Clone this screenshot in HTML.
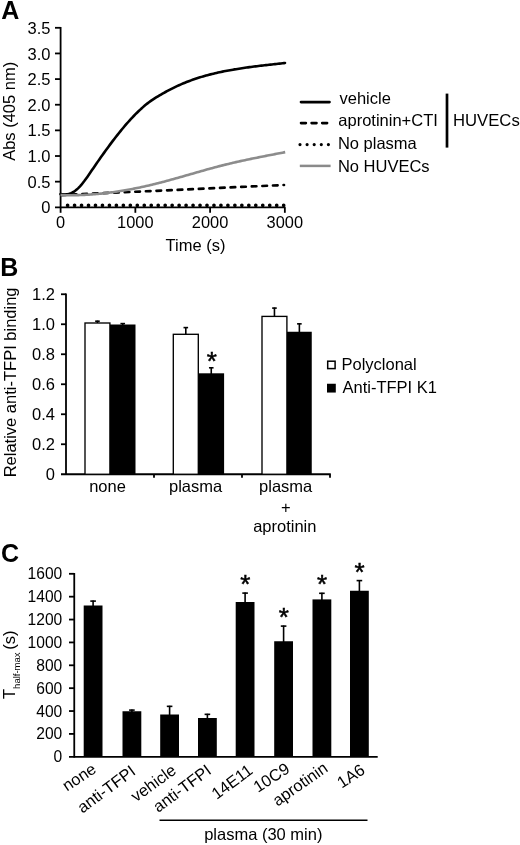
<!DOCTYPE html>
<html lang="en"><head><meta charset="utf-8"><title>Figure</title>
<style>
html,body{margin:0;padding:0;background:#fff;}
svg{display:block;}
svg text{font-family:"Liberation Sans",Arial,sans-serif;fill:#000;}
</style></head><body>
<svg width="520" height="845" viewBox="0 0 520 845">
<rect width="520" height="845" fill="#fff"/>
<text x="1.2" y="19.2" font-size="25" text-anchor="start" font-weight="bold" >A</text>
<line x1="60.6" y1="27.0" x2="60.6" y2="208.10000000000002" stroke="#000" stroke-width="1.8" />
<line x1="55" y1="207.3" x2="285.40000000000003" y2="207.3" stroke="#000" stroke-width="1.8" />
<text x="50.4" y="213.4" font-size="16.5" text-anchor="end" >0</text>
<line x1="55" y1="181.65714285714287" x2="60.6" y2="181.65714285714287" stroke="#000" stroke-width="1.8" />
<text x="50.4" y="187.75714285714287" font-size="16.5" text-anchor="end" >0.5</text>
<line x1="55" y1="156.01428571428573" x2="60.6" y2="156.01428571428573" stroke="#000" stroke-width="1.8" />
<text x="50.4" y="162.11428571428573" font-size="16.5" text-anchor="end" >1.0</text>
<line x1="55" y1="130.37142857142857" x2="60.6" y2="130.37142857142857" stroke="#000" stroke-width="1.8" />
<text x="50.4" y="136.47142857142856" font-size="16.5" text-anchor="end" >1.5</text>
<line x1="55" y1="104.72857142857144" x2="60.6" y2="104.72857142857144" stroke="#000" stroke-width="1.8" />
<text x="50.4" y="110.82857142857144" font-size="16.5" text-anchor="end" >2.0</text>
<line x1="55" y1="79.08571428571429" x2="60.6" y2="79.08571428571429" stroke="#000" stroke-width="1.8" />
<text x="50.4" y="85.18571428571428" font-size="16.5" text-anchor="end" >2.5</text>
<line x1="55" y1="53.44285714285715" x2="60.6" y2="53.44285714285715" stroke="#000" stroke-width="1.8" />
<text x="50.4" y="59.54285714285715" font-size="16.5" text-anchor="end" >3.0</text>
<line x1="55" y1="27.80000000000001" x2="60.6" y2="27.80000000000001" stroke="#000" stroke-width="1.8" />
<text x="50.4" y="33.90000000000001" font-size="16.5" text-anchor="end" >3.5</text>
<line x1="60.6" y1="207.3" x2="60.6" y2="212.8" stroke="#000" stroke-width="1.8" />
<text x="60.6" y="227.7" font-size="16.4" text-anchor="middle" >0</text>
<line x1="135.35" y1="207.3" x2="135.35" y2="212.8" stroke="#000" stroke-width="1.8" />
<text x="135.35" y="227.7" font-size="16.4" text-anchor="middle" >1000</text>
<line x1="210.1" y1="207.3" x2="210.1" y2="212.8" stroke="#000" stroke-width="1.8" />
<text x="210.1" y="227.7" font-size="16.4" text-anchor="middle" >2000</text>
<line x1="284.85" y1="207.3" x2="284.85" y2="212.8" stroke="#000" stroke-width="1.8" />
<text x="284.85" y="227.7" font-size="16.4" text-anchor="middle" >3000</text>
<text x="195.5" y="250.5" font-size="16.5" text-anchor="middle" >Time (s)</text>
<text transform="translate(15.3,111.3) rotate(-90)" font-size="16.5" text-anchor="middle">Abs (405 nm)</text>
<line x1="67.6" y1="205.3" x2="286" y2="205.3" stroke="#000" stroke-width="3.7" stroke-linecap="round" stroke-dasharray="0 6.97"/>
<path d="M60.5,194.07 L62.0,194.29 L63.5,194.41 L65.0,194.41 L66.5,194.30 L68.0,194.06 L69.5,193.68 L71.0,193.15 L72.5,192.46 L74.0,191.60 L75.5,190.56 L77.0,189.33 L78.5,187.92 L80.0,186.35 L81.5,184.62 L83.0,182.77 L84.5,180.82 L86.0,178.77 L87.5,176.66 L89.0,174.50 L90.5,172.31 L92.0,170.10 L93.5,167.90 L95.0,165.72 L96.5,163.54 L98.0,161.38 L99.5,159.23 L101.0,157.09 L102.5,154.97 L104.0,152.87 L105.5,150.78 L107.0,148.72 L108.5,146.67 L110.0,144.64 L111.5,142.63 L113.0,140.65 L114.5,138.69 L116.0,136.75 L117.5,134.84 L119.0,132.95 L120.5,131.09 L122.0,129.26 L123.5,127.46 L125.0,125.69 L126.5,123.95 L128.0,122.24 L129.5,120.56 L131.0,118.92 L132.5,117.31 L134.0,115.74 L135.5,114.21 L137.0,112.71 L138.5,111.25 L140.0,109.84 L141.5,108.46 L143.0,107.12 L144.5,105.83 L146.0,104.59 L147.5,103.39 L149.0,102.24 L150.5,101.15 L152.0,100.10 L153.5,99.09 L155.0,98.13 L156.5,97.20 L158.0,96.29 L159.5,95.40 L161.0,94.53 L162.5,93.68 L164.0,92.84 L165.5,92.01 L167.0,91.20 L168.5,90.40 L170.0,89.61 L171.5,88.85 L173.0,88.09 L174.5,87.36 L176.0,86.64 L177.5,85.94 L179.0,85.25 L180.5,84.58 L182.0,83.93 L183.5,83.29 L185.0,82.68 L186.5,82.07 L188.0,81.49 L189.5,80.92 L191.0,80.36 L192.5,79.82 L194.0,79.30 L195.5,78.79 L197.0,78.29 L198.5,77.81 L200.0,77.34 L201.5,76.88 L203.0,76.43 L204.5,76.00 L206.0,75.58 L207.5,75.17 L209.0,74.77 L210.5,74.38 L212.0,74.01 L213.5,73.64 L215.0,73.28 L216.5,72.94 L218.0,72.60 L219.5,72.27 L221.0,71.95 L222.5,71.64 L224.0,71.33 L225.5,71.04 L227.0,70.75 L228.5,70.46 L230.0,70.19 L231.5,69.92 L233.0,69.66 L234.5,69.40 L236.0,69.16 L237.5,68.91 L239.0,68.68 L240.5,68.44 L242.0,68.22 L243.5,68.00 L245.0,67.78 L246.5,67.57 L248.0,67.36 L249.5,67.16 L251.0,66.96 L252.5,66.76 L254.0,66.57 L255.5,66.38 L257.0,66.19 L258.5,66.01 L260.0,65.83 L261.5,65.65 L263.0,65.47 L264.5,65.30 L266.0,65.13 L267.5,64.96 L269.0,64.79 L270.5,64.62 L272.0,64.45 L273.5,64.28 L275.0,64.11 L276.5,63.95 L278.0,63.78 L279.5,63.61 L281.0,63.44 L282.5,63.27 L284.0,63.10 L285.0,62.99" fill="none" stroke="#000" stroke-width="2.6" stroke-linecap="round"/>
<line x1="61.2" y1="195.1" x2="284" y2="185" stroke="#000" stroke-width="2.7" stroke-linecap="round" stroke-dasharray="4.6 6.0"/>
<path d="M60.5,195.04 L62.0,195.10 L63.5,195.14 L65.0,195.17 L66.5,195.20 L68.0,195.22 L69.5,195.23 L71.0,195.23 L72.5,195.22 L74.0,195.21 L75.5,195.19 L77.0,195.15 L78.5,195.12 L80.0,195.07 L81.5,195.02 L83.0,194.95 L84.5,194.88 L86.0,194.81 L87.5,194.72 L89.0,194.63 L90.5,194.53 L92.0,194.42 L93.5,194.31 L95.0,194.19 L96.5,194.06 L98.0,193.92 L99.5,193.78 L101.0,193.63 L102.5,193.47 L104.0,193.30 L105.5,193.13 L107.0,192.95 L108.5,192.77 L110.0,192.58 L111.5,192.38 L113.0,192.17 L114.5,191.96 L116.0,191.74 L117.5,191.52 L119.0,191.29 L120.5,191.05 L122.0,190.81 L123.5,190.56 L125.0,190.30 L126.5,190.04 L128.0,189.77 L129.5,189.50 L131.0,189.22 L132.5,188.93 L134.0,188.64 L135.5,188.34 L137.0,188.04 L138.5,187.73 L140.0,187.41 L141.5,187.09 L143.0,186.76 L144.5,186.43 L146.0,186.10 L147.5,185.75 L149.0,185.41 L150.5,185.05 L152.0,184.70 L153.5,184.33 L155.0,183.96 L156.5,183.59 L158.0,183.21 L159.5,182.83 L161.0,182.44 L162.5,182.05 L164.0,181.65 L165.5,181.25 L167.0,180.85 L168.5,180.44 L170.0,180.03 L171.5,179.62 L173.0,179.20 L174.5,178.78 L176.0,178.36 L177.5,177.94 L179.0,177.51 L180.5,177.09 L182.0,176.66 L183.5,176.23 L185.0,175.80 L186.5,175.37 L188.0,174.93 L189.5,174.50 L191.0,174.07 L192.5,173.64 L194.0,173.20 L195.5,172.77 L197.0,172.34 L198.5,171.91 L200.0,171.48 L201.5,171.06 L203.0,170.63 L204.5,170.21 L206.0,169.79 L207.5,169.37 L209.0,168.95 L210.5,168.54 L212.0,168.13 L213.5,167.72 L215.0,167.32 L216.5,166.92 L218.0,166.53 L219.5,166.13 L221.0,165.75 L222.5,165.37 L224.0,164.99 L225.5,164.62 L227.0,164.25 L228.5,163.89 L230.0,163.53 L231.5,163.17 L233.0,162.82 L234.5,162.48 L236.0,162.13 L237.5,161.80 L239.0,161.46 L240.5,161.13 L242.0,160.80 L243.5,160.48 L245.0,160.15 L246.5,159.83 L248.0,159.52 L249.5,159.20 L251.0,158.89 L252.5,158.58 L254.0,158.28 L255.5,157.97 L257.0,157.67 L258.5,157.37 L260.0,157.07 L261.5,156.77 L263.0,156.47 L264.5,156.18 L266.0,155.88 L267.5,155.59 L269.0,155.29 L270.5,155.00 L272.0,154.71 L273.5,154.42 L275.0,154.12 L276.5,153.83 L278.0,153.54 L279.5,153.25 L281.0,152.95 L282.5,152.66 L284.0,152.37 L285.2,152.13" fill="none" stroke="#8c8c8c" stroke-width="2.6"/>
<line x1="301" y1="102.1" x2="329.5" y2="102.1" stroke="#000" stroke-width="2.7" stroke-linecap="round"/>
<line x1="301" y1="123.1" x2="329" y2="123.1" stroke="#000" stroke-width="2.6" stroke-linecap="round" stroke-dasharray="4.9 5.7"/>
<line x1="300" y1="144.6" x2="330" y2="144.6" stroke="#000" stroke-width="3.2" stroke-linecap="round" stroke-dasharray="0 7.1"/>
<line x1="299.8" y1="165.9" x2="330.6" y2="165.9" stroke="#8a8a8a" stroke-width="2.5" />
<text x="339.5" y="103.75" font-size="16.5" text-anchor="start" >vehicle</text>
<text x="338.3" y="125.6" font-size="16.5" text-anchor="start" >aprotinin+CTI</text>
<text x="337.9" y="148.5" font-size="16.5" text-anchor="start" >No plasma</text>
<text x="337.9" y="171.5" font-size="16.5" text-anchor="start" >No HUVECs</text>
<line x1="447" y1="93.6" x2="447" y2="147.6" stroke="#000" stroke-width="2.7" />
<text x="453.0" y="125.75" font-size="16.7" text-anchor="start" >HUVECs</text>
<text x="0.2" y="276.2" font-size="25" text-anchor="start" font-weight="bold" >B</text>
<line x1="66.0" y1="293.45" x2="66.0" y2="475.05" stroke="#000" stroke-width="1.8" />
<line x1="61" y1="474.25" x2="330.8" y2="474.25" stroke="#000" stroke-width="1.8" />
<text x="55" y="480.05" font-size="16.5" text-anchor="end" >0</text>
<line x1="61" y1="444.25" x2="66.0" y2="444.25" stroke="#000" stroke-width="1.8" />
<text x="55" y="450.05" font-size="16.5" text-anchor="end" >0.2</text>
<line x1="61" y1="414.25" x2="66.0" y2="414.25" stroke="#000" stroke-width="1.8" />
<text x="55" y="420.05" font-size="16.5" text-anchor="end" >0.4</text>
<line x1="61" y1="384.25" x2="66.0" y2="384.25" stroke="#000" stroke-width="1.8" />
<text x="55" y="390.05" font-size="16.5" text-anchor="end" >0.6</text>
<line x1="61" y1="354.25" x2="66.0" y2="354.25" stroke="#000" stroke-width="1.8" />
<text x="55" y="360.05" font-size="16.5" text-anchor="end" >0.8</text>
<line x1="61" y1="324.25" x2="66.0" y2="324.25" stroke="#000" stroke-width="1.8" />
<text x="55" y="330.05" font-size="16.5" text-anchor="end" >1.0</text>
<line x1="61" y1="294.25" x2="66.0" y2="294.25" stroke="#000" stroke-width="1.8" />
<text x="55" y="300.05" font-size="16.5" text-anchor="end" >1.2</text>
<line x1="154.0" y1="474.25" x2="154.0" y2="477.75" stroke="#000" stroke-width="1.8" />
<line x1="242.0" y1="474.25" x2="242.0" y2="477.75" stroke="#000" stroke-width="1.8" />
<line x1="330.0" y1="474.25" x2="330.0" y2="477.75" stroke="#000" stroke-width="1.8" />
<line x1="97.45" y1="320.6" x2="97.45" y2="323.9" stroke="#000" stroke-width="1.6" />
<line x1="95.15" y1="321.20000000000005" x2="99.75" y2="321.20000000000005" stroke="#000" stroke-width="1.6" />
<rect x="85.0" y="323.0" width="24.899999999999995" height="151.25000000000003" fill="#fff" stroke="#000" stroke-width="1.35"/>
<line x1="122.75" y1="323" x2="122.75" y2="325.5" stroke="#000" stroke-width="1.6" />
<line x1="120.45" y1="323.6" x2="125.05" y2="323.6" stroke="#000" stroke-width="1.6" />
<rect x="110" y="324.5" width="25.5" height="149.75" fill="#000"/>
<line x1="185.8" y1="327" x2="185.8" y2="335.2" stroke="#000" stroke-width="1.6" />
<line x1="183.5" y1="327.6" x2="188.10000000000002" y2="327.6" stroke="#000" stroke-width="1.6" />
<rect x="173.29999999999998" y="334.3" width="25.000000000000018" height="139.95000000000002" fill="#fff" stroke="#000" stroke-width="1.35"/>
<line x1="211.25" y1="367.2" x2="211.25" y2="374.3" stroke="#000" stroke-width="1.6" />
<line x1="208.95" y1="367.8" x2="213.55" y2="367.8" stroke="#000" stroke-width="1.6" />
<rect x="198.4" y="373.3" width="25.69999999999999" height="100.94999999999999" fill="#000"/>
<line x1="274.45" y1="307.5" x2="274.45" y2="317.3" stroke="#000" stroke-width="1.6" />
<line x1="272.15" y1="308.1" x2="276.75" y2="308.1" stroke="#000" stroke-width="1.6" />
<rect x="262.0" y="316.40000000000003" width="24.900000000000023" height="157.85" fill="#fff" stroke="#000" stroke-width="1.35"/>
<line x1="299.375" y1="323.25" x2="299.375" y2="332.75" stroke="#000" stroke-width="1.6" />
<line x1="297.075" y1="323.85" x2="301.675" y2="323.85" stroke="#000" stroke-width="1.6" />
<rect x="287" y="331.75" width="24.75" height="142.5" fill="#000"/>
<text x="211.8" y="370.2" font-size="26" text-anchor="middle" stroke="#000" stroke-width="0.5">*</text>
<text x="107.5" y="491.5" font-size="16.5" text-anchor="middle" >none</text>
<text x="195.6" y="491.5" font-size="16.5" text-anchor="middle" >plasma</text>
<text x="285.7" y="491.5" font-size="16.5" text-anchor="middle" >plasma</text>
<text x="285.7" y="512.5" font-size="16.5" text-anchor="middle" >+</text>
<text x="284.8" y="532.4" font-size="16.5" text-anchor="middle" >aprotinin</text>
<text transform="translate(15.9,382.4) rotate(-90)" font-size="16.5" text-anchor="middle">Relative anti-TFPI binding</text>
<rect x="327.7" y="361.2" width="7.4" height="7.4" fill="#fff" stroke="#000" stroke-width="1.5"/>
<rect x="327" y="383.75" width="8.8" height="8.8" fill="#000"/>
<text x="341.5" y="370" font-size="16.5" text-anchor="start" >Polyclonal</text>
<text x="342.5" y="392.5" font-size="16.5" text-anchor="start" >Anti-TFPI K1</text>
<text x="1.0" y="561.5" font-size="25" text-anchor="start" font-weight="bold" >C</text>
<line x1="74.25" y1="573.0" x2="74.25" y2="757.5999999999999" stroke="#000" stroke-width="1.8" />
<line x1="69" y1="756.8" x2="377.7" y2="756.8" stroke="#000" stroke-width="1.8" />
<text x="62.3" y="762.3" font-size="15.6" text-anchor="end" >0</text>
<line x1="69" y1="733.925" x2="74.25" y2="733.925" stroke="#000" stroke-width="1.8" />
<text x="62.3" y="739.425" font-size="15.6" text-anchor="end" >200</text>
<line x1="69" y1="711.05" x2="74.25" y2="711.05" stroke="#000" stroke-width="1.8" />
<text x="62.3" y="716.55" font-size="15.6" text-anchor="end" >400</text>
<line x1="69" y1="688.175" x2="74.25" y2="688.175" stroke="#000" stroke-width="1.8" />
<text x="62.3" y="693.675" font-size="15.6" text-anchor="end" >600</text>
<line x1="69" y1="665.3" x2="74.25" y2="665.3" stroke="#000" stroke-width="1.8" />
<text x="62.3" y="670.8" font-size="15.6" text-anchor="end" >800</text>
<line x1="69" y1="642.425" x2="74.25" y2="642.425" stroke="#000" stroke-width="1.8" />
<text x="62.3" y="647.925" font-size="15.6" text-anchor="end" >1000</text>
<line x1="69" y1="619.55" x2="74.25" y2="619.55" stroke="#000" stroke-width="1.8" />
<text x="62.3" y="625.05" font-size="15.6" text-anchor="end" >1200</text>
<line x1="69" y1="596.675" x2="74.25" y2="596.675" stroke="#000" stroke-width="1.8" />
<text x="62.3" y="602.175" font-size="15.6" text-anchor="end" >1400</text>
<line x1="69" y1="573.8" x2="74.25" y2="573.8" stroke="#000" stroke-width="1.8" />
<text x="62.3" y="579.3" font-size="15.6" text-anchor="end" >1600</text>
<line x1="93.1" y1="600.5" x2="93.1" y2="606.5" stroke="#000" stroke-width="1.6" />
<line x1="90.3" y1="601.1" x2="95.89999999999999" y2="601.1" stroke="#000" stroke-width="1.6" />
<rect x="83.69999999999999" y="605.5" width="18.8" height="151.29999999999995" fill="#000"/>
<text transform="translate(97.4,771.6) rotate(-33.5)" font-size="16.4" text-anchor="end">none</text>
<line x1="131.9" y1="709.5" x2="131.9" y2="712.25" stroke="#000" stroke-width="1.6" />
<line x1="129.1" y1="710.1" x2="134.70000000000002" y2="710.1" stroke="#000" stroke-width="1.6" />
<rect x="122.5" y="711.25" width="18.8" height="45.549999999999955" fill="#000"/>
<text transform="translate(136.7,773.6) rotate(-36.5)" font-size="16.4" text-anchor="end">anti-TFPI</text>
<line x1="169.6" y1="705.75" x2="169.6" y2="715.5" stroke="#000" stroke-width="1.6" />
<line x1="166.79999999999998" y1="706.35" x2="172.4" y2="706.35" stroke="#000" stroke-width="1.6" />
<rect x="160.2" y="714.5" width="18.8" height="42.299999999999955" fill="#000"/>
<text transform="translate(177.4,772.6) rotate(-36)" font-size="16.4" text-anchor="end">vehicle</text>
<line x1="207.4" y1="713.75" x2="207.4" y2="719" stroke="#000" stroke-width="1.6" />
<line x1="204.6" y1="714.35" x2="210.20000000000002" y2="714.35" stroke="#000" stroke-width="1.6" />
<rect x="198.0" y="718" width="18.8" height="38.799999999999955" fill="#000"/>
<text transform="translate(212.5,772.9) rotate(-36.5)" font-size="16.4" text-anchor="end">anti-TFPI</text>
<line x1="245.1" y1="592.5" x2="245.1" y2="603" stroke="#000" stroke-width="1.6" />
<line x1="242.29999999999998" y1="593.1" x2="247.9" y2="593.1" stroke="#000" stroke-width="1.6" />
<rect x="235.7" y="602" width="18.8" height="154.79999999999995" fill="#000"/>
<text x="245.2" y="593.1999999999999" font-size="26" text-anchor="middle" stroke="#000" stroke-width="0.5">*</text>
<text transform="translate(253.9,772.6) rotate(-36.5)" font-size="16.4" text-anchor="end">14E11</text>
<line x1="283.6" y1="625.5" x2="283.6" y2="642.25" stroke="#000" stroke-width="1.6" />
<line x1="280.8" y1="626.1" x2="286.40000000000003" y2="626.1" stroke="#000" stroke-width="1.6" />
<rect x="274.20000000000005" y="641.25" width="18.8" height="115.54999999999995" fill="#000"/>
<text x="283.70000000000005" y="626.4" font-size="26" text-anchor="middle" stroke="#000" stroke-width="0.5">*</text>
<text transform="translate(290.8,771.6) rotate(-33)" font-size="16.4" text-anchor="end">10C9</text>
<line x1="321.9" y1="592.7" x2="321.9" y2="600.4" stroke="#000" stroke-width="1.6" />
<line x1="319.09999999999997" y1="593.3000000000001" x2="324.7" y2="593.3000000000001" stroke="#000" stroke-width="1.6" />
<rect x="312.5" y="599.4" width="18.8" height="157.39999999999998" fill="#000"/>
<text x="322.0" y="593.0" font-size="26" text-anchor="middle" stroke="#000" stroke-width="0.5">*</text>
<text transform="translate(328.9,770.6) rotate(-35)" font-size="16.4" text-anchor="end">aprotinin</text>
<line x1="359.4" y1="580" x2="359.4" y2="591.75" stroke="#000" stroke-width="1.6" />
<line x1="356.59999999999997" y1="580.6" x2="362.2" y2="580.6" stroke="#000" stroke-width="1.6" />
<rect x="350.0" y="590.75" width="18.8" height="166.04999999999995" fill="#000"/>
<text x="359.5" y="581.4" font-size="26" text-anchor="middle" stroke="#000" stroke-width="0.5">*</text>
<text transform="translate(366.2,772.6) rotate(-33.5)" font-size="16.4" text-anchor="end">1A6</text>
<line x1="159.5" y1="820.3" x2="367.5" y2="820.3" stroke="#000" stroke-width="1.5" />
<text x="263.3" y="839.5" font-size="16.5" text-anchor="middle" >plasma (30 min)</text>
<text transform="translate(15.3,699) rotate(-90)" font-size="16.5">T<tspan font-size="9.5" dy="5">half-max</tspan><tspan dy="-5" dx="-1.8"> (s)</tspan></text>
</svg>
</body></html>
